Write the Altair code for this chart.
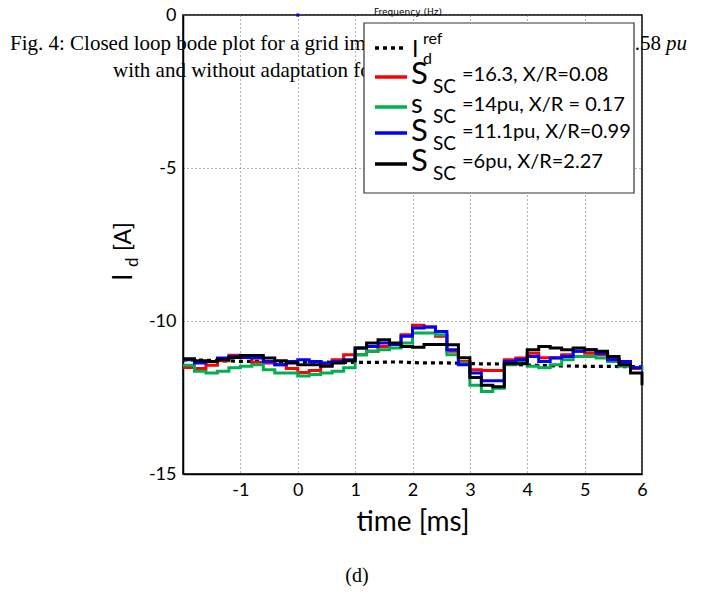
import altair as alt
import pandas as pd

# ---- data ----
time_ms = [-2.0, -1.8, -1.6, -1.4, -1.2, -1.0, -0.8, -0.6, -0.4, -0.2,
           0.0, 0.2, 0.4, 0.6, 0.8, 1.0, 1.2, 1.4, 1.6, 1.8,
           2.0, 2.2, 2.4, 2.6, 2.8, 3.0, 3.2, 3.4, 3.6, 3.8,
           4.0, 4.2, 4.4, 4.6, 4.8, 5.0, 5.2, 5.4, 5.6, 5.8, 6.0]

id_ref = [-11.27, -11.27, -11.28, -11.30, -11.30, -11.32, -11.32, -11.32, -11.33, -11.33,
          -11.33, -11.34, -11.34, -11.35, -11.35, -11.35, -11.35, -11.35, -11.34, -11.34,
          -11.36, -11.37, -11.37, -11.37, -11.38, -11.39, -11.40, -11.40, -11.41, -11.42,
          -11.44, -11.45, -11.46, -11.47, -11.47, -11.48, -11.48, -11.48, -11.49, -11.49, -11.50]

s_red = [-11.52, -11.55, -11.45, -11.30, -11.12, -11.15, -11.35, -11.37, -11.43, -11.55,
         -11.68, -11.62, -11.43, -11.27, -11.10, -11.10, -10.99, -10.83, -10.77, -10.45,
         -10.14, -10.20, -10.50, -10.99, -11.32, -11.59, -11.62, -11.62, -11.27, -11.21,
         -11.05, -11.20, -11.20, -11.10, -10.99, -11.05, -11.10, -11.25, -11.43, -11.55, -11.55]

s_green = [-11.45, -11.64, -11.70, -11.64, -11.53, -11.48, -11.43, -11.59, -11.70, -11.70,
           -11.80, -11.75, -11.70, -11.64, -11.53, -11.10, -10.99, -10.94, -10.88, -10.72,
           -10.39, -10.39, -10.45, -11.10, -11.37, -12.10, -12.30, -12.20, -11.43, -11.32,
           -11.48, -11.53, -11.43, -11.27, -11.16, -11.16, -11.21, -11.32, -11.48, -11.53, -11.60]

s_blue = [-11.27, -11.37, -11.32, -11.21, -11.16, -11.19, -11.21, -11.32, -11.43, -11.32,
          -11.27, -11.32, -11.37, -11.32, -11.27, -10.88, -10.83, -10.72, -10.77, -10.50,
          -10.23, -10.20, -10.34, -10.94, -11.43, -11.70, -11.95, -11.95, -11.32, -11.27,
          -11.16, -11.32, -11.21, -11.16, -10.99, -10.94, -11.05, -11.27, -11.32, -11.53, -11.53]

s_black = [-11.23, -11.30, -11.32, -11.27, -11.19, -11.13, -11.13, -11.21, -11.30, -11.37,
           -11.43, -11.43, -11.48, -11.37, -11.30, -10.88, -10.72, -10.61, -10.72, -10.83,
           -10.86, -10.77, -10.77, -10.78, -11.20, -11.85, -12.10, -12.15, -11.40, -11.40,
           -10.94, -10.83, -10.88, -10.94, -10.88, -10.94, -10.99, -11.16, -11.43, -11.70, -12.10]

marker_t = [0.0]
marker_v = [0.0]

x_ticks = [-1, 0, 1, 2, 3, 4, 5, 6]
y_ticks = [0, -5, -10, -15]

series = {"red": s_red, "green": s_green, "blue": s_blue, "black": s_black}
colors = {"red": "#ff0000", "green": "#00b050", "blue": "#0000ff", "black": "#000000"}

df_ref = pd.DataFrame({"time": time_ms, "value": id_ref})

X = alt.X("time:Q", scale=alt.Scale(domain=[-2, 6], nice=False, zero=False),
          axis=alt.Axis(values=x_ticks, title="time [ms]", titleFont="Lato",
                        titleFontSize=28, titleFontWeight="normal", titleColor="black",
                        titlePadding=9, labelFlush=False,
                        labelExpr="'' + datum.value"))
Y = alt.Y("value:Q", scale=alt.Scale(domain=[-15, 0], nice=False, zero=False),
          axis=alt.Axis(values=y_ticks, title=None, labelExpr="'' + datum.value"))


def txt(s, x, y, size, font="Lato", align="left", baseline="middle", angle=None,
        style=None, color="black"):
    kw = dict(align=align, baseline=baseline, fontSize=size, font=font, color=color)
    if angle is not None:
        kw["angle"] = angle
    if style is not None:
        kw["fontStyle"] = style
    return alt.Chart(pd.DataFrame({"label": [s]})).mark_text(**kw).encode(
        x=alt.value(x), y=alt.value(y), text="label:N")


def rule(x1, x2, y, color, dash=None, width=3.5):
    kw = dict(color=color, strokeWidth=width)
    if dash is not None:
        kw["strokeDash"] = dash
    return alt.Chart(pd.DataFrame({"k": [0]})).mark_rule(**kw).encode(
        x=alt.value(x1), x2=alt.value(x2), y=alt.value(y))


layers = []

# caption text sitting behind the plot (page-level overlay in the reference)
serif = "Liberation Serif"
layers.append(txt("Fig. 4: Closed loop bode plot for a grid impedance of", -173, 35, 21,
                  font=serif, baseline="alphabetic"))
layers.append(txt("with and without adaptation for different grid conditions", -70, 62, 21,
                  font=serif, baseline="alphabetic"))
layers.append(txt("0.58", 478, 35, 21, font=serif, align="right", baseline="alphabetic"))
layers.append(txt("pu", 483, 35, 21, font=serif, baseline="alphabetic", style="italic"))

# data lines
layers.append(alt.Chart(df_ref).mark_line(color="black", strokeWidth=3.2,
                                          strokeDash=[4, 4]).encode(x=X, y=Y))
for name in ["red", "green", "blue", "black"]:
    d = pd.DataFrame({"time": time_ms, "value": series[name]})
    layers.append(alt.Chart(d).mark_line(color=colors[name], strokeWidth=3,
                                         interpolate="step-after").encode(x=X, y=Y))

layers.append(alt.Chart(pd.DataFrame({"time": marker_t, "value": marker_v}))
              .mark_point(filled=True, color="#0000ff", size=14, opacity=1).encode(x=X, y=Y))

# legend box
layers.append(alt.Chart(pd.DataFrame({"k": [0]})).mark_rect(
    fill="white", stroke="#333333", strokeWidth=1.2).encode(
    x=alt.value(181), x2=alt.value(451), y=alt.value(8), y2=alt.value(178)))

layers.append(rule(192, 224, 33, "black", dash=[4, 4]))
layers.append(txt("I", 229, 35, 23))
layers.append(txt("ref", 240, 24, 16))
layers.append(txt("d", 240, 44, 16))

rows = [("S", "=16.3, X/R=0.08", "red", 62, 60),
        ("s", "=14pu, X/R = 0.17", "green", 92, 90),
        ("S", "=11.1pu, X/R=0.99", "blue", 118, 117),
        ("S", "=6pu, X/R=2.27", "black", 149, 147)]
for letter, label, col, ly, ty in rows:
    layers.append(rule(192, 224, ly, colors[col]))
    layers.append(txt(letter, 228, ty, 31 if letter == "S" else 27))
    layers.append(txt("SC", 250, ty + 12, 19))
    layers.append(txt(label, 279, ty, 20))

# other annotations
layers.append(txt("Frequency (Hz)", 225, -7, 9, font="DejaVu Sans", align="center",
                  baseline="top"))
layers.append(txt("(d)", 174, 561, 20, font=serif, align="center"))

# y-axis title I_d [A], rotated
layers.append(txt("I", -59, 266, 27, angle=270))
layers.append(txt("d", -50, 252, 17, angle=270))
layers.append(txt("[A]", -59, 236, 23, angle=270))

chart = alt.layer(*layers).properties(
    width=459, height=459,
    autosize=alt.AutoSizeParams(type="none"),
    padding={"left": 175, "top": 7, "right": 60, "bottom": 112},
    background="white",
).configure_view(stroke="black", strokeWidth=1.5).configure_axis(
    domainColor="black", domainWidth=1.5, labelColor="black", labelFont="Lato",
    labelFontSize=18, labelPadding=7, ticks=False, gridColor="#666666",
    gridDash=[1, 3], gridWidth=1, gridOpacity=1,
)

chart.save("out.html", embed_options={"renderer": "svg", "actions": False})
